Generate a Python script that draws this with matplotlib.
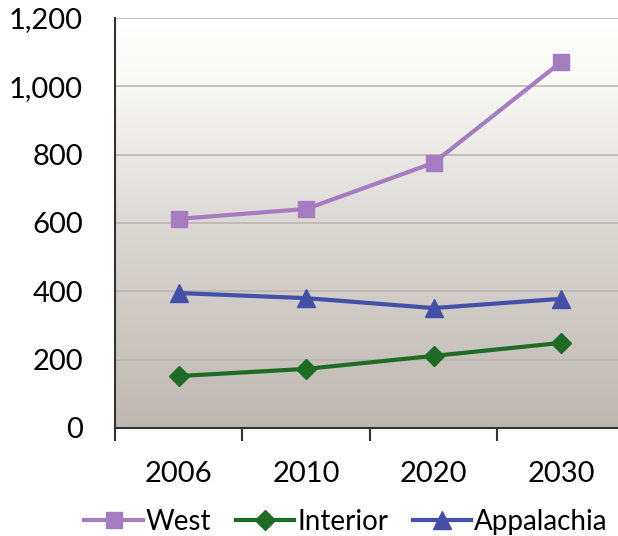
import numpy as np
import matplotlib.pyplot as plt
from matplotlib.colors import LinearSegmentedColormap

years = ["2006", "2010", "2020", "2030"]
west = [612, 641, 776, 1071]
interior = [152, 173, 211, 249]
appalachia = [395, 380, 351, 378]

plt.rcParams['font.family'] = ['Lato', 'DejaVu Sans']

fig = plt.figure(figsize=(6.18, 5.36), dpi=100)
ax = fig.add_axes([0.186, 0.2015, 0.825, 0.765])

# background gradient, white at top to warm grey at bottom
cmap = LinearSegmentedColormap.from_list("bg", [
    (0.0, "#bfb8b1"), (0.33, "#d2cdc8"), (0.5, "#dcd9d5"),
    (0.67, "#ebe9e6"), (0.83, "#f8f8f7"), (1.0, "#ffffff")])
grad = np.linspace(0, 1, 256).reshape(-1, 1)
ax.imshow(grad, cmap=cmap, aspect="auto", origin="lower",
          extent=[0, 1, 0, 1], transform=ax.transAxes, zorder=0)

x = np.arange(len(years))
ax.plot(x, west, color="#a67cc0", lw=3, marker="s", ms=12, label="West", zorder=3)
ax.plot(x, interior, color="#1f6b25", lw=3, marker="D", ms=10, label="Interior", zorder=3)
ax.plot(x, appalachia, color="#4450a8", lw=3, marker="^", ms=13, label="Appalachia", zorder=3)

ax.set_xlim(-0.5, 3.5)
ax.set_ylim(0, 1200)
ax.set_yticks(range(0, 1201, 200))
ax.set_yticklabels([f"{v:,}" for v in range(0, 1201, 200)])
for v in range(200, 1201, 200):
    ax.axhline(v, color="#bdb6af", lw=1.2, zorder=1)

ax.set_xticks(x)
ax.set_xticklabels(years)
ax.set_xticks(np.arange(-0.5, 4, 1), minor=True)
ax.tick_params(axis="x", which="major", length=0, pad=24, labelsize=21)
ax.tick_params(axis="x", which="minor", length=9, width=1.5, color="#333333")
ax.tick_params(axis="y", length=0, pad=23, labelsize=21)

for s in ["top", "right"]:
    ax.spines[s].set_visible(False)
for s in ["left", "bottom"]:
    ax.spines[s].set_color("#333333")
    ax.spines[s].set_linewidth(1.5)

fig.legend(loc="lower center", bbox_to_anchor=(0.56, -0.045), ncol=3, frameon=False,
           fontsize=20, handlelength=2.1, handletextpad=0.1, columnspacing=0.9)

fig.savefig("out.png", dpi=100)
